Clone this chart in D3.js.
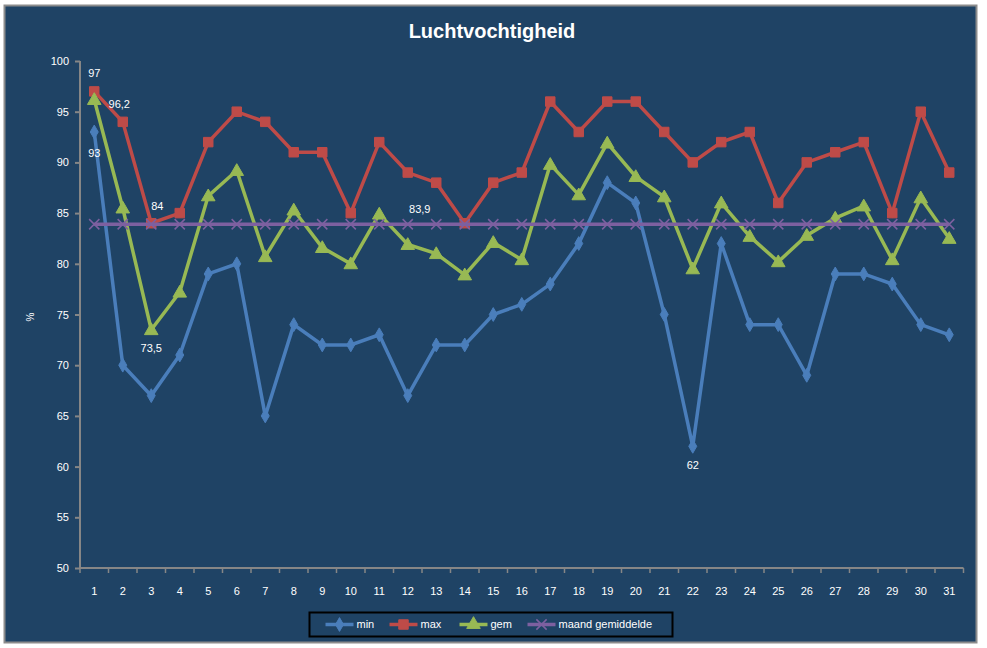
<!DOCTYPE html>
<html>
<head>
<meta charset="utf-8">
<script src="https://cdn.jsdelivr.net/npm/d3@7"></script>
<style>
body { margin: 0; background: #fff; }
svg text { font-family: "Liberation Sans", Arial, sans-serif; fill: #fff; }
</style>
</head>
<body>
<div class="chart"></div>
<script>
const WIDTH = 987;
const HEIGHT = 648;

const days = d3.range(1, 32);
const minValues = [93, 70, 67, 71, 79, 80, 65, 74, 72, 72, 73, 67, 72, 72, 75, 76, 78, 82, 88, 86, 75, 62, 82, 74, 74, 69, 79, 79, 78, 74, 73];
const maxValues = [97, 94, 84, 85, 92, 95, 94, 91, 91, 85, 92, 89, 88, 84, 88, 89, 96, 93, 96, 96, 93, 90, 92, 93, 86, 90, 91, 92, 85, 95, 89];
const gemValues = [96.2, 85.5, 73.5, 77.2, 86.7, 89.2, 80.7, 85.3, 81.6, 80, 84.9, 81.9, 81, 78.9, 82.1, 80.4, 89.8, 86.8, 91.9, 88.6, 86.6, 79.5, 86, 82.7, 80.2, 82.8, 84.5, 85.7, 80.4, 86.5, 82.5];
const monthMean = 83.9;
const meanValues = days.map(() => monthMean);
const yTicks = [50, 55, 60, 65, 70, 75, 80, 85, 90, 95, 100];

// labels shown in the picture: [series, day index, dx, dy]
const pointLabels = [
    ['max', 0, 0, -18],
    ['gem', 0, 25, 5],
    ['min', 0, 0, 21],
    ['max', 2, 6, -17],
    ['gem', 2, 0, 18],
    ['mean', 11, 12, -15],
    ['min', 21, 0, 19]
];

const AXIS = '#868686';

var translate = function (x, y) {
    return 'translate(' + x + ',' + y + ')';
};

var svg = d3.select('.chart').append('svg')
    .attr('width', WIDTH)
    .attr('height', HEIGHT);

svg.append('rect')
    .attr('x', 4.5).attr('y', 5.5)
    .attr('width', 972).attr('height', 637)
    .attr('fill', '#1f4365')
    .attr('stroke', '#8c8c8c')
    .attr('stroke-width', 2);

svg.append('text')
    .attr('x', 492).attr('y', 38)
    .attr('text-anchor', 'middle')
    .style('font-size', '20px')
    .style('font-weight', 'bold')
    .text('Luchtvochtigheid');

var x = d3.scaleBand().domain(days).range([80, 963.5]);
var cx = d => x(d) + x.bandwidth() / 2;
var y = d3.scaleLinear().domain([50, 100]).range([568, 61]);

// y axis
var yAxis = svg.append('g')
    .attr('transform', translate(80, 0))
    .call(d3.axisLeft(y).tickValues(yTicks).tickSize(5).tickPadding(6));
yAxis.selectAll('line, path').attr('stroke', AXIS).attr('stroke-width', 2);
yAxis.select('.domain').attr('d', 'M0,' + y(100) + 'V' + y(50));
yAxis.selectAll('text').style('font-size', '11px').attr('fill', '#fff');

// x axis
var xAxis = svg.append('g')
    .attr('transform', translate(0, 568))
    .call(d3.axisBottom(x).tickSize(0).tickPadding(19));
xAxis.select('.domain').attr('stroke', AXIS).attr('stroke-width', 2)
    .attr('d', 'M80,0H963.5');
xAxis.selectAll('text').style('font-size', '11px').attr('fill', '#fff');
xAxis.selectAll('.edge').data(days.concat([32]))
    .enter().append('line')
    .attr('x1', d => d === 32 ? 963.5 : x(d))
    .attr('x2', d => d === 32 ? 963.5 : x(d))
    .attr('y1', 0).attr('y2', 5)
    .attr('stroke', AXIS).attr('stroke-width', 1.5);

svg.append('text')
    .attr('transform', translate(34, 317) + ' rotate(-90)')
    .attr('text-anchor', 'middle')
    .style('font-size', '10px')
    .text('%');

var series = [
    { key: 'min', label: 'min', values: minValues, color: '#4a7ebb', symbol: d3.symbolDiamond, size: 55 },
    { key: 'max', label: 'max', values: maxValues, color: '#be4b48', symbol: d3.symbolSquare, size: 90 },
    { key: 'gem', label: 'gem', values: gemValues, color: '#98b954', symbol: d3.symbolTriangle, size: 80 },
    { key: 'mean', label: 'maand gemiddelde', values: meanValues, color: '#7d60a0', symbol: d3.symbolX, size: 70 }
];

var line = d3.line()
    .x((v, i) => cx(days[i]))
    .y(v => y(v));

series.forEach(function (s) {
    var g = svg.append('g').attr('class', s.key);
    g.append('path')
        .attr('d', line(s.values))
        .attr('fill', 'none')
        .attr('stroke', s.color)
        .attr('stroke-width', 3.5);
    var sym = d3.symbol().type(s.symbol).size(s.size);
    g.selectAll('path.m').data(s.values)
        .enter().append('path')
        .attr('class', 'm')
        .attr('transform', (v, i) => translate(cx(days[i]), y(v) + (s.symbol === d3.symbolTriangle ? 1 : 0)))
        .attr('d', sym())
        .attr('fill', s.color)
        .attr('stroke', s.color)
        .attr('stroke-width', s.symbol === d3.symbolX ? 1.5 : 1);
});

// data labels
var byKey = {};
series.forEach(s => byKey[s.key] = s);
svg.append('g').selectAll('text').data(pointLabels)
    .enter().append('text')
    .attr('x', d => cx(days[d[1]]) + d[2])
    .attr('y', d => y(byKey[d[0]].values[d[1]]) + d[3])
    .attr('text-anchor', 'middle')
    .attr('dy', '0.35em')
    .style('font-size', '11px')
    .text(d => String(byKey[d[0]].values[d[1]]).replace('.', ','));

// legend
var legend = svg.append('g').attr('transform', translate(309.5, 612.5));
legend.append('rect')
    .attr('width', 363).attr('height', 24)
    .attr('fill', 'none')
    .attr('stroke', '#000')
    .attr('stroke-width', 2);
var legendX = [16, 80, 150, 218];
series.forEach(function (s, i) {
    var item = legend.append('g').attr('transform', translate(legendX[i], 12));
    item.append('line')
        .attr('x1', 0).attr('x2', 28)
        .attr('stroke', s.color).attr('stroke-width', 3.5);
    item.append('path')
        .attr('transform', translate(14, 0))
        .attr('d', d3.symbol().type(s.symbol).size(s.size)())
        .attr('fill', s.color)
        .attr('stroke', s.color)
        .attr('stroke-width', s.symbol === d3.symbolX ? 1.5 : 1);
    item.append('text')
        .attr('x', 31).attr('dy', '0.35em')
        .style('font-size', '11px')
        .text(s.label);
});
</script>
</body>
</html>
